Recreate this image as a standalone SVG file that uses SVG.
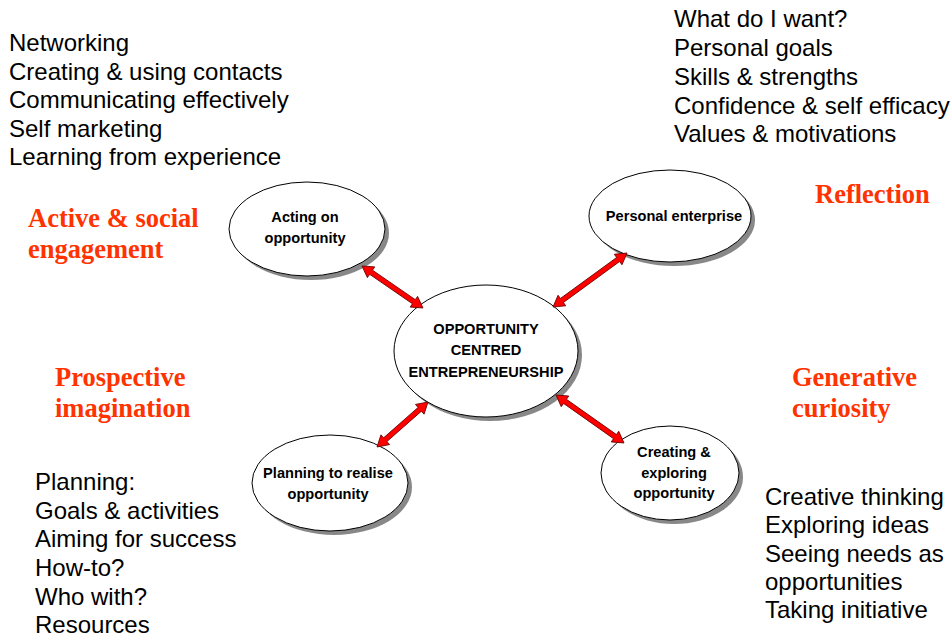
<svg xmlns="http://www.w3.org/2000/svg" width="951" height="639" viewBox="0 0 951 639">
<style>
.list{font-family:"Liberation Sans",Arial,sans-serif;font-size:24px;fill:#000}
.head{font-family:"Liberation Serif","Times New Roman",serif;font-size:26.5px;font-weight:bold;fill:#FF3300}
.lbl{font-family:"Liberation Sans",Arial,sans-serif;font-size:14.6px;font-weight:bold;fill:#000;text-anchor:middle}
.sh{fill:#888}
.el{fill:#fff;stroke:#000;stroke-width:1}
.arr{fill:#FF0000;stroke:#600;stroke-width:0.8;stroke-linejoin:miter}
</style>
<rect width="951" height="639" fill="#fff"/>
<g id="texts">
<text class="list" x="9" y="51">Networking</text>
<text class="list" x="9" y="80">Creating &amp; using contacts</text>
<text class="list" x="9" y="108">Communicating effectively</text>
<text class="list" x="9" y="137">Self marketing</text>
<text class="list" x="9" y="165">Learning from experience</text>
<text class="list" x="674" y="27">What do I want?</text>
<text class="list" x="674" y="56">Personal goals</text>
<text class="list" x="674" y="85">Skills &amp; strengths</text>
<text class="list" x="674" y="114">Confidence &amp; self efficacy</text>
<text class="list" x="674" y="142">Values &amp; motivations</text>
<text class="list" x="35" y="490">Planning:</text>
<text class="list" x="35" y="519">Goals &amp; activities</text>
<text class="list" x="35" y="547">Aiming for success</text>
<text class="list" x="35" y="576">How-to?</text>
<text class="list" x="35" y="605">Who with?</text>
<text class="list" x="35" y="633">Resources</text>
<text class="list" x="765" y="505">Creative thinking</text>
<text class="list" x="765" y="533">Exploring ideas</text>
<text class="list" x="765" y="562">Seeing needs as</text>
<text class="list" x="765" y="590">opportunities</text>
<text class="list" x="765" y="618">Taking initiative</text>
<text class="head" x="28" y="227">Active &amp; social</text>
<text class="head" x="28" y="258">engagement</text>
<text class="head" x="815" y="203">Reflection</text>
<text class="head" x="55" y="386">Prospective</text>
<text class="head" x="55" y="417">imagination</text>
<text class="head" x="792" y="386">Generative</text>
<text class="head" x="792" y="417">curiosity</text>
</g>
<g id="node-acting">
<ellipse class="sh" cx="311" cy="233" rx="78" ry="47"/>
<ellipse class="el" cx="307" cy="229" rx="78" ry="47"/>
<text class="lbl" x="305" y="222">Acting on</text>
<text class="lbl" x="305" y="243">opportunity</text>
</g>
<g id="node-personal">
<ellipse class="sh" cx="674" cy="220" rx="81" ry="46"/>
<ellipse class="el" cx="670" cy="216" rx="81" ry="46"/>
<text class="lbl" x="674" y="221">Personal enterprise</text>
</g>
<g id="node-centre">
<ellipse class="sh" cx="490" cy="355" rx="92" ry="66"/>
<ellipse class="el" cx="486" cy="351" rx="92" ry="66"/>
<text class="lbl" x="486" y="334">OPPORTUNITY</text>
<text class="lbl" x="486" y="355">CENTRED</text>
<text class="lbl" x="486" y="377">ENTREPRENEURSHIP</text>
</g>
<g id="node-planning">
<ellipse class="sh" cx="334" cy="487" rx="78" ry="48"/>
<ellipse class="el" cx="330" cy="483" rx="78" ry="48"/>
<text class="lbl" x="328" y="478">Planning to realise</text>
<text class="lbl" x="328" y="499">opportunity</text>
</g>
<g id="node-creating">
<ellipse class="sh" cx="674" cy="477" rx="69" ry="47"/>
<ellipse class="el" cx="670" cy="473" rx="69" ry="47"/>
<text class="lbl" x="674" y="457">Creating &amp;</text>
<text class="lbl" x="674" y="478">exploring</text>
<text class="lbl" x="674" y="498">opportunity</text>
</g>
<g id="connectors">
<path class="arr" transform="translate(362,266) rotate(34.55)" d="M0,0 L11,-6.5 L11,-2.5 L63,-2.5 L63,-6.5 L74,0 L63,6.5 L63,2.5 L11,2.5 L11,6.5 Z"/>
<path class="arr" transform="translate(553,307) rotate(-36.1)" d="M0,0 L11,-6.5 L11,-2.5 L80.6,-2.5 L80.6,-6.5 L91.6,0 L80.6,6.5 L80.6,2.5 L11,2.5 L11,6.5 Z"/>
<path class="arr" transform="translate(377,447) rotate(-41.4)" d="M0,0 L11,-6.5 L11,-2.5 L57,-2.5 L57,-6.5 L68,0 L57,6.5 L57,2.5 L11,2.5 L11,6.5 Z"/>
<path class="arr" transform="translate(556,395) rotate(35.2)" d="M0,0 L11,-6.5 L11,-2.5 L72.2,-2.5 L72.2,-6.5 L83.2,0 L72.2,6.5 L72.2,2.5 L11,2.5 L11,6.5 Z"/>
</g>
</svg>
